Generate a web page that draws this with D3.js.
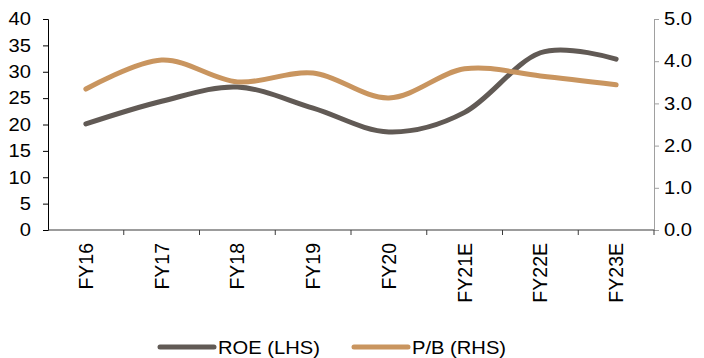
<!DOCTYPE html>
<meta charset="utf-8">
<style>
  body { margin: 0; background: #fff; }
  text { font-family: "Liberation Sans", Arial, sans-serif; fill: #000; }
</style>
<body>
<svg id="chart" width="704" height="358"></svg>
</body>
<script src="https://d3js.org/d3.v7.min.js"></script>
<script>
// chart data
var years = ["FY16", "FY17", "FY18", "FY19", "FY20", "FY21E", "FY22E", "FY23E"];
var roe = [20.1, 24.4, 27.1, 23.1, 18.6, 22.3, 33.6, 32.4];
var pb = [3.34, 4.03, 3.51, 3.72, 3.13, 3.82, 3.65, 3.44];
var leftTicks = [0, 5, 10, 15, 20, 25, 30, 35, 40];
var rightTicks = [0, 1, 2, 3, 4, 5];
var seriesNames = ["ROE (LHS)", "P/B (RHS)"];

var colors = ["#615a55", "#c9955f"];
var plotL = 48, plotR = 654, plotT = 19, plotB = 230;
var wide = 1.12; // the source glyphs are a little wider than Liberation Sans

var svg = d3.select("#chart");

var x = d3.scaleBand().domain(years).range([plotL, plotR]);
var yL = d3.scaleLinear().domain([0, 40]).range([plotB, plotT]);
var yR = d3.scaleLinear().domain([0, 5]).range([plotB, plotT]);

// left axis
var gL = svg.append("g")
  .attr("transform", "translate(" + plotL + ",0)")
  .call(d3.axisLeft(yL).tickValues(leftTicks).tickSize(5).tickPadding(12));
gL.selectAll("path, line").attr("stroke", "#000");
gL.selectAll("text").style("font-size", "18px")
  .attr("transform", function(){ return "translate(" + d3.select(this).attr("x") + ",0) scale(" + wide + ",1)"; })
  .attr("x", 0);

// right axis
var gR = svg.append("g")
  .attr("transform", "translate(" + plotR + ",0)")
  .call(d3.axisRight(yR).tickValues(rightTicks).tickFormat(d3.format(".1f")).tickSize(5).tickPadding(5));
gR.selectAll("path, line").attr("stroke", "#a0a0a0");
gR.selectAll("text").style("font-size", "18px")
  .attr("transform", function(){ return "translate(" + d3.select(this).attr("x") + ",0) scale(" + wide + ",1)"; })
  .attr("x", 0);

// bottom axis: ticks between categories
var gB = svg.append("g")
  .attr("transform", "translate(0," + plotB + ")");
gB.append("line").attr("x1", plotL).attr("x2", plotR).attr("stroke", "#3a3a3a").attr("stroke-width", 1.2);
gB.selectAll(".tk").data(years).enter().append("line")
  .attr("x1", function(d){ return x(d) + x.bandwidth(); })
  .attr("x2", function(d){ return x(d) + x.bandwidth(); })
  .attr("y1", 0).attr("y2", 5).attr("stroke", "#3a3a3a");
gB.selectAll(".lbl").data(years).enter().append("text")
  .attr("transform", function(d){ return "translate(" + (x(d) + x.bandwidth()/2 + 7) + ",13) rotate(-90)"; })
  .attr("text-anchor", "end")
  .style("font-size", "19.5px")
  .text(function(d){ return d; });

// lines
var lineL = d3.line()
  .x(function(d, i){ return x(years[i]) + x.bandwidth()/2; })
  .y(function(d){ return yL(d); })
  .curve(d3.curveCatmullRom.alpha(0));
var lineR = d3.line()
  .x(function(d, i){ return x(years[i]) + x.bandwidth()/2; })
  .y(function(d){ return yR(d); })
  .curve(d3.curveCatmullRom.alpha(0));

svg.append("path").attr("d", lineL(roe))
  .attr("fill", "none").attr("stroke", colors[0]).attr("stroke-width", 5).attr("stroke-linecap", "round");
svg.append("path").attr("d", lineR(pb))
  .attr("fill", "none").attr("stroke", colors[1]).attr("stroke-width", 5).attr("stroke-linecap", "round");

// legend
var legX = [160, 354];
var leg = svg.selectAll(".leg").data(seriesNames).enter().append("g")
  .attr("transform", function(d, i){ return "translate(" + legX[i] + ",347)"; });
leg.append("line").attr("x1", 0).attr("x2", 54)
  .attr("stroke", function(d, i){ return colors[i]; })
  .attr("stroke-width", 5).attr("stroke-linecap", "round");
leg.append("text").attr("transform", "translate(58,6.5) scale(" + wide + ",1)")
  .style("font-size", "18px")
  .text(function(d){ return d; });
</script>
